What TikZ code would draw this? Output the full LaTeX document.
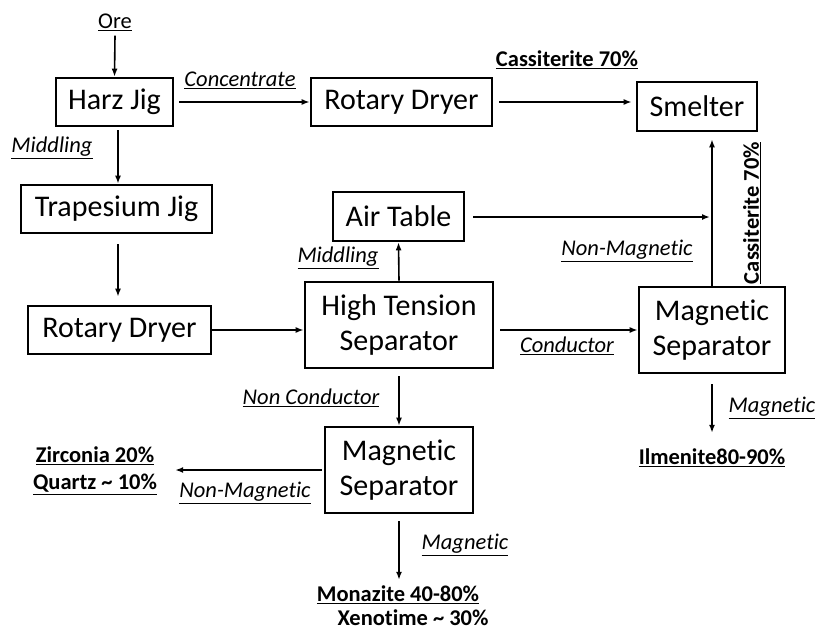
\documentclass[tikz,border=0pt]{standalone}
\usepackage{fontspec}
\setmainfont{Carlito}[Ligatures={NoCommon}]
\usetikzlibrary{arrows.meta,calc}
\begin{document}
\begin{tikzpicture}[x=1pt,y=-1pt,
  box/.style={draw,line width=2.6pt,inner sep=0pt,align=center,font=\fontsize{30}{35}\selectfont},
  lab/.style={inner sep=0pt,font=\fontsize{22.5}{25}\selectfont\itshape},
  res/.style={inner sep=0pt,align=center,font=\fontsize{22.5}{27}\selectfont\bfseries},
  arr/.style={line width=1.6pt,-{Latex[length=8pt,width=6pt]}},
  ln/.style={line width=1.6pt}]
\useasboundingbox (0,0) rectangle (818,632);
% boxes
\node[box,minimum width=117,minimum height=48] (harz) at (114.5,102) {Harz Jig};
\node[box,minimum width=181,minimum height=48] (rd1) at (401.5,102) {Rotary Dryer};
\node[box,minimum width=120,minimum height=49] (smelt) at (697,106.5) {Smelter};
\node[box,minimum width=191,minimum height=48] (trap) at (116.5,209) {Trapesium Jig};
\node[box,minimum width=183,minimum height=48] (rd2) at (119.5,330) {Rotary Dryer};
\node[box,minimum width=131,minimum height=49] (air) at (398.5,216.5) {Air Table};
\node[box,minimum width=188,minimum height=86] (hts) at (399,325) {High Tension\\Separator};
\node[box,minimum width=146,minimum height=86] (msr) at (712,330) {Magnetic\\Separator};
\node[box,minimum width=148,minimum height=86] (msb) at (399,470) {Magnetic\\Separator};
% texts
\node[inner sep=0pt,font=\fontsize{22.5}{25}\selectfont] (ore) at (115,22) {\underline{Ore}};
\node[res] (cas1) at (567,60) {\underline{Cassiterite 70\%}};
\node[res,rotate=90] (cas2) at (752,213) {\underline{Cassiterite 70\%}};
\node[res] (ilm) at (712,458) {\underline{Ilmenite80-90\%}};
\node[res] (zir) at (95,471) {\underline{Zirconia 20\%}\\\underline{Quartz \char`~{} 10\%}};
\node[res] (mon) at (398,595) {\underline{Monazite 40-80\%}};
\node[res] (xen) at (413,618) {Xenotime \char`~{} 30\%};
% labels
\node[lab] at (240,80) {\underline{Concentrate}};
\node[lab] at (52,148) {\underline{Middling}};
\node[lab] at (338,258) {\underline{Middling}};
\node[lab] at (627,251) {\underline{Non-Magnetic}};
\node[lab] at (567,346) {\underline{Conductor}};
\node[lab] at (772,408) {\underline{Magnetic}};
\node[lab] at (311,398) {\underline{Non Conductor}};
\node[lab] at (245,493) {\underline{Non-Magnetic}};
\node[lab] at (465,545) {\underline{Magnetic}};
% helper coordinates
\coordinate (hs) at (118,126);
\coordinate (ts) at (118,233);
\coordinate (j) at (712,217);
% connectors
\draw[arr] (ore.south) ++(0,5) -- (harz.north);
\draw[arr,shorten <=5pt] (harz.east) -- (rd1.west);
\draw[arr,shorten <=6pt,shorten >=4pt] (rd1.east) -- (rd1.east -| smelt.west);
\draw[arr,shorten <=4pt] (hs) -- (hs |- trap.north);
\draw[arr,shorten <=11pt,shorten >=8pt] (ts) -- (ts |- rd2.north);
\draw[arr] (rd2.east) -- (rd2.east -| hts.west);
\draw[arr] (hts.north) -- (air.south);
\draw[arr,shorten <=8pt,shorten >=2pt] (air.east |- j) -- (j);
\draw[arr,shorten >=7pt] (msr.north) -- (msr.north |- smelt.south);
\draw[arr,shorten <=6pt] (hts.east |- msr.west) -- (msr.west);
\draw[arr,shorten <=10pt,shorten >=16pt] (msr.south) -- (msr.south |- ilm.north);
\draw[arr,shorten <=7pt] (hts.south) -- (msb.north);
\draw[arr,shorten <=2pt,shorten >=18pt] (msb.west) -- (msb.west -| zir.east);
\draw[arr,shorten <=7pt,shorten >=6pt] (msb.south) -- (msb.south |- mon.north);
\end{tikzpicture}
\end{document}
